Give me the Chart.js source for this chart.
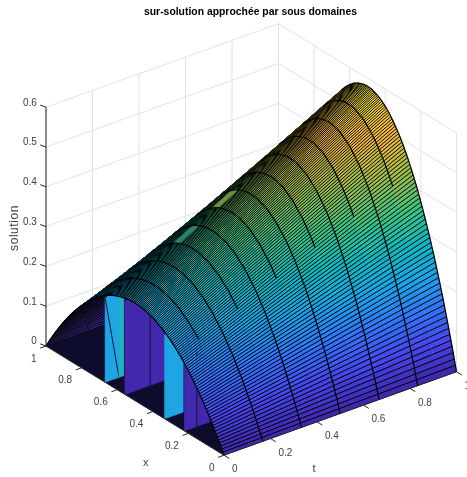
<!DOCTYPE html>
<html lang="fr">
<head>
<meta charset="UTF-8">
<title>sur-solution</title>
<style>
    body { margin: 0; background: #fff; }
    canvas { display: block; }
</style>
</head>
<body>
<canvas id="chart" width="467" height="477"></canvas>
<script src="https://cdn.jsdelivr.net/npm/chart.js@4.4.3/dist/chart.umd.min.js"></script>
<script>
const title = 'sur-solution approchée par sous domaines';
const xLabel = 'x', tLabel = 't', zLabel = 'solution';

const xTicks = [0, 0.2, 0.4, 0.6, 0.8, 1];
const xTickLabels = ['0', '0.2', '0.4', '0.6', '0.8', '1'];
const tTicks = [0, 0.2, 0.4, 0.6, 0.8, 1];
const tTickLabels = ['0', '0.2', '0.4', '0.6', '0.8', '1'];
const zTicks = [0, 0.1, 0.2, 0.3, 0.4, 0.5, 0.6];
const zTickLabels = ['0', '0.1', '0.2', '0.3', '0.4', '0.5', '0.6'];

// crest height of the arch at each t column
const tColumns = [0, 0.083, 0.167, 0.25, 0.333, 0.417, 0.5, 0.583, 0.667, 0.75, 0.833, 0.917, 1];
const crest = [0.245, 0.273, 0.301, 0.329, 0.357, 0.385, 0.413, 0.441, 0.469, 0.497, 0.525, 0.553, 0.58];

// arch profile across x, one value per mesh row (x = row / 160)
const profile = [
    0, .025, .049, .074, .098, .121, .144, .167, .190, .212, .234, .256, .278, .299, .319, .340,
    .360, .380, .399, .419, .438, .456, .474, .492, .510, .527, .544, .561, .578, .594, .609, .625,
    .640, .655, .669, .684, .698, .711, .724, .737, .750, .762, .774, .786, .798, .809, .819, .830,
    .840, .850, .859, .869, .878, .886, .894, .902, .910, .917, .924, .931, .938, .944, .949, .955,
    .960, .965, .969, .974, .978, .981, .984, .987, .990, .992, .994, .996, .998, .999, .999, 1, 1,
    1, .999, .999, .998, .996, .994, .992, .990, .987, .984, .981, .978, .974, .969, .965, .960,
    .955, .949, .944, .938, .931, .924, .917, .910, .902, .894, .886, .878, .869, .859, .850, .840,
    .830, .819, .809, .798, .786, .774, .762, .750, .737, .724, .711, .698, .684, .669, .655, .640,
    .625, .609, .594, .578, .561, .544, .527, .510, .492, .474, .456, .438, .419, .399, .380, .360,
    .340, .319, .299, .278, .256, .234, .212, .190, .167, .144, .121, .098, .074, .049, .025, 0
];

// walls standing under the arch near t = 0
const wallX = [0.667, 0.667, 0.556, 0.333, 0.222];
const wallT0 = [0, 0.059, 0, 0, 0];
const wallT1 = [0.059, 0.08, 0.174, 0.08, 0.108];
const wallColors = ['#1fa5e3', '#22b0c4', '#4128ac', '#1fa5e3', '#4128ac'];
const wallSeamX = [0.556, 0.222];
const wallSeamT = [0.108, 0.053];

// arcs: every t column in the outer mesh, odd columns only over x >= 0.25
const fullArcs = [0, 2, 4, 6, 8, 10, 12];
const partArcs = [1, 3, 5, 7, 9, 11];

// lighter tiles next to the ridge: t column, first and last mesh row
const tileColumns = [3, 5];
const tileRowA = [92, 92];
const tileRowB = [98, 98];
const tileColors = ['#2c7f72', '#6d8f3c'];

const parula = [
    [0, 62, 38, 168], [0.13, 70, 70, 235], [0.25, 50, 115, 250], [0.38, 25, 165, 230],
    [0.5, 15, 185, 190], [0.62, 60, 195, 130], [0.75, 160, 190, 70], [0.875, 250, 185, 55], [1, 249, 240, 30]
];

function project(x, t, z) {
    return { x: 224 + 232.5 * t - 178 * x, y: 455.2 - 83.5 * t - 109.2 * x - 398 * z };
}

function surf(i, j) {
    return project(i / 160, tColumns[j], profile[i] * crest[j]);
}

function colorOf(z) {
    const v = Math.min(1, z / 0.58);
    let k = 0;
    while (k < parula.length - 2 && v > parula[k + 1][0]) k++;
    const a = parula[k], b = parula[k + 1], f = (v - a[0]) / (b[0] - a[0]);
    return `rgb(${[1, 2, 3].map(c => Math.round(a[c] + (b[c] - a[c]) * f)).join(',')})`;
}

function isFront(i, j) {
    const p = surf(i, j), u = surf(i + 1, j), v = surf(i, j + 1);
    return (u.x - p.x) * (v.y - p.y) - (u.y - p.y) * (v.x - p.x) > 0;
}

function line(points, color, width) {
    return { data: points, borderColor: color, borderWidth: width, showLine: true, fill: false, pointRadius: 0, tension: 0 };
}

function polygon(points, color) {
    return { data: points.concat([points[0]]), borderColor: color, borderWidth: 0.4, backgroundColor: color, showLine: true, fill: 'shape', pointRadius: 0, tension: 0 };
}

const sets = [];

// back walls grid
const gridColor = '#e2e2e2';
zTicks.forEach(z => {
    sets.push(line([project(1, 0, z), project(1, 1, z), project(0, 1, z)], gridColor, 1));
});
tTicks.forEach(t => sets.push(line([project(1, t, 0), project(1, t, 0.6)], gridColor, 1)));
xTicks.forEach(x => sets.push(line([project(x, 1, 0), project(x, 1, 0.6)], gridColor, 1)));

// floor under the arch
sets.push(polygon([project(0, 0, 0), project(1, 0, 0), project(1, 1, 0), project(0, 1, 0)], '#0e0c2c'));

// surface, far rows first
const wallDone = wallX.map(() => false);
for (let i = 159; i >= 0; i--) {
    wallX.forEach((wx, w) => {
        if (!wallDone[w] && (i + 1) / 160 <= wx) {
            wallDone[w] = true;
            const row = Math.round(wx * 160);
            const hAt = t => 0.97 * profile[row] * crest[Math.round(t * 12)];
            sets.push(polygon([project(wx, wallT0[w], 0), project(wx, wallT1[w], 0),
                project(wx, wallT1[w], hAt(wallT1[w])), project(wx, wallT0[w], hAt(wallT0[w]))], wallColors[w]));
            wallSeamX.forEach((sx, s) => {
                if (sx === wx) sets.push(line([project(wx, wallSeamT[s], 0), project(wx, wallSeamT[s], hAt(wallSeamT[s]))], '#14123a', 1));
            });
            if (w === 0) sets.push(line([project(wx, 0.059, 0), project(wx, 0, hAt(0))], '#14123a', 1));
        }
    });
    for (let j = 11; j >= 0; j--) {
        const front = isFront(i, j);
        const z = (profile[i] + profile[i + 1]) / 2 * (crest[j] + crest[j + 1]) / 2;
        sets.push(polygon([surf(i, j), surf(i + 1, j), surf(i + 1, j + 1), surf(i, j + 1)], front ? colorOf(z) : '#3f2c9c'));
        if (!front && j % 2 === 0) sets.push(line([surf(i, j), surf(i + 1, j)], '#000', 1));
    }
    sets.push(line(tColumns.map((t, j) => surf(i + 1, j)), '#000', 1));
}

tileColumns.forEach((j, k) => {
    const a = tileRowA[k], b = tileRowB[k];
    sets.push(polygon([surf(a, j), surf(b, j), surf(b, j + 1), surf(a, j + 1)], tileColors[k]));
});

// arcs over the lit side of the arch
fullArcs.concat(partArcs).forEach(j => {
    const odd = partArcs.includes(j);
    const pts = [];
    const col = Math.min(j, 11);
    for (let i = odd ? 40 : 0; i < 160 && (j === 0 || isFront(i, col)); i++) pts.push(surf(i, j));
    if (j === 0) pts.push(surf(160, 0));
    sets.push(line(pts, '#000', 1.2));
});

// axes
const axisColor = '#262626';
sets.push(line([project(1, 0, 0), project(0, 0, 0), project(0, 1, 0)], axisColor, 1));
sets.push(line([project(1, 0, 0), project(1, 0, 0.6)], axisColor, 1));

const labelsPlugin = {
    id: 'labels3d',
    afterDraw(chart) {
        const ctx = chart.ctx, sx = chart.scales.x, sy = chart.scales.y;
        const at = p => ({ x: sx.getPixelForValue(p.x), y: sy.getPixelForValue(p.y) });
        function tick(p, dx, dy) {
            const a = at(p);
            ctx.beginPath();
            ctx.moveTo(a.x, a.y);
            ctx.lineTo(a.x + dx, a.y + dy);
            ctx.stroke();
        }
        ctx.save();
        ctx.strokeStyle = axisColor;
        ctx.lineWidth = 1;
        ctx.fillStyle = '#404040';
        ctx.font = '10px "Liberation Sans"';
        ctx.textBaseline = 'middle';

        ctx.textAlign = 'right';
        zTicks.forEach((z, k) => {
            const p = project(1, 0, z), a = at(p);
            tick(p, -5.8, -2.1);
            ctx.fillText(zTickLabels[k], a.x - 9.2, a.y - 4.3);
        });
        xTicks.forEach((x, k) => {
            const p = project(x, 0, 0), a = at(p);
            tick(p, -5.8, 2.1);
            ctx.fillText(xTickLabels[k], a.x - 9.5, a.y + 12.8);
        });
        ctx.textAlign = 'left';
        tTicks.forEach((t, k) => {
            const p = project(0, t, 0), a = at(p);
            tick(p, 5.3, 3.3);
            ctx.fillText(tTickLabels[k], a.x + 8, a.y + 14.5);
        });

        ctx.textAlign = 'center';
        ctx.font = '11px "Liberation Sans"';
        ctx.fillText(xLabel, 145.7, 462.7);
        ctx.fillText(tLabel, 314, 469);
        ctx.save();
        ctx.translate(14.3, 228);
        ctx.rotate(-Math.PI / 2);
        ctx.font = '12px "Liberation Sans"';
        ctx.letterSpacing = '0.55px';
        ctx.fillText(zLabel, 0, 0);
        ctx.restore();

        ctx.fillStyle = '#000';
        ctx.font = 'bold 10.4px "Liberation Sans"';
        ctx.fillText(title, 250.5, 12.5);
        ctx.restore();
    }
};

new Chart(document.getElementById('chart'), {
    type: 'scatter',
    data: { datasets: sets.reverse() },
    options: {
        responsive: false,
        animation: false,
        events: [],
        layout: { padding: 0 },
        plugins: { legend: { display: false }, tooltip: { enabled: false } },
        scales: {
            x: { type: 'linear', display: false, min: 0, max: 467 },
            y: { type: 'linear', display: false, min: 0, max: 477, reverse: true }
        }
    },
    plugins: [labelsPlugin]
});
</script>
</body>
</html>
